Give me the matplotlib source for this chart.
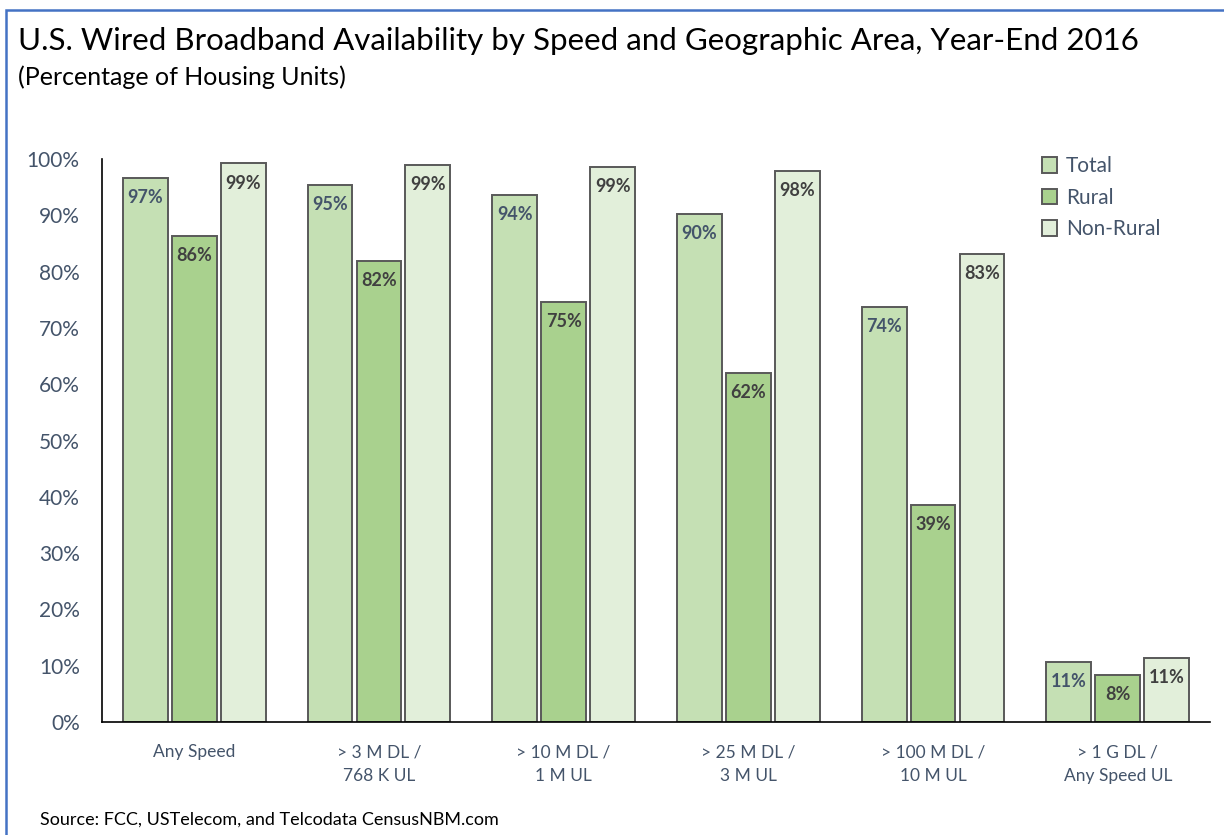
import matplotlib.pyplot as plt
import numpy as np
from matplotlib.patches import Rectangle

categories = ["Any Speed", "> 3 M DL /\n768 K UL", "> 10 M DL /\n1 M UL",
              "> 25 M DL /\n3 M UL", "> 100 M DL /\n10 M UL", "> 1 G DL /\nAny Speed UL"]
total = [96.6, 95.4, 93.6, 90.2, 73.7, 10.7]
rural = [86.4, 81.9, 74.6, 62.0, 38.6, 8.4]
non_rural = [99.2, 98.9, 98.6, 97.9, 83.1, 11.4]
series_names = ["Total", "Rural", "Non-Rural"]
colors = ["#C5E0B4", "#A9D18E", "#E2EFDA"]
label_colors = ["#44546A", "#404040", "#404040"]

plt.rcParams["font.family"] = ["Lato", "DejaVu Sans"]
slate = "#44546A"

fig = plt.figure(figsize=(12.24, 8.35), dpi=100)
ax = fig.add_axes([0.0833, 0.1353, 0.9053, 0.6743])

x = np.arange(len(categories))
width = 0.243
step = 0.265
for i, (vals, name) in enumerate(zip([total, rural, non_rural], series_names)):
    pos = x + (i - 1) * step
    bars = ax.bar(pos, vals, width, color=colors[i], edgecolor="#595959",
                  linewidth=1.4, label=name)
    for b, v in zip(bars, vals):
        ax.annotate(f"{v:.0f}%", (b.get_x() + b.get_width() / 2, v),
                    xytext=(0, -8), textcoords="offset points", ha="center", va="top",
                    fontsize=13, fontweight="bold", color=label_colors[i])

ax.set_xlim(-0.5, len(categories) - 0.5)
ax.set_ylim(0, 100)
ax.set_yticks(range(0, 101, 10))
ax.set_yticklabels([f"{t}%" for t in range(0, 101, 10)])
ax.set_xticks(x)
ax.set_xticklabels(categories, linespacing=1.6)
ax.tick_params(axis="y", length=0, pad=16, labelsize=15, labelcolor=slate)
ax.tick_params(axis="x", length=0, pad=16, labelsize=12.5, labelcolor=slate)
for side in ["top", "right"]:
    ax.spines[side].set_visible(False)
ax.spines["left"].set_color("black")
ax.spines["bottom"].set_color("black")
ax.spines["left"].set_linewidth(1.2)
ax.spines["bottom"].set_linewidth(1.2)

leg = ax.legend(loc="upper right", bbox_to_anchor=(0.972, 1.038), frameon=False,
                fontsize=15, handlelength=0.75, handleheight=0.75,
                handletextpad=0.4, labelspacing=0.55)
for t in leg.get_texts():
    t.set_color(slate)

fig.text(0.015, 0.951, "U.S. Wired Broadband Availability by Speed and Geographic Area, Year-End 2016",
         fontsize=22.5, color="black", va="center")
fig.text(0.015, 0.907, "(Percentage of Housing Units)", fontsize=18, color="black", va="center")
fig.text(0.033, 0.018, "Source: FCC, USTelecom, and Telcodata CensusNBM.com",
         fontsize=13, color="black", va="center")

fig.patches.append(Rectangle((6 / 1224, -0.1), 1.2, 1.1 - 10 / 835, transform=fig.transFigure,
                             fill=False, edgecolor="#4472C4", linewidth=1.8))

fig.savefig("out.png", dpi=100)
